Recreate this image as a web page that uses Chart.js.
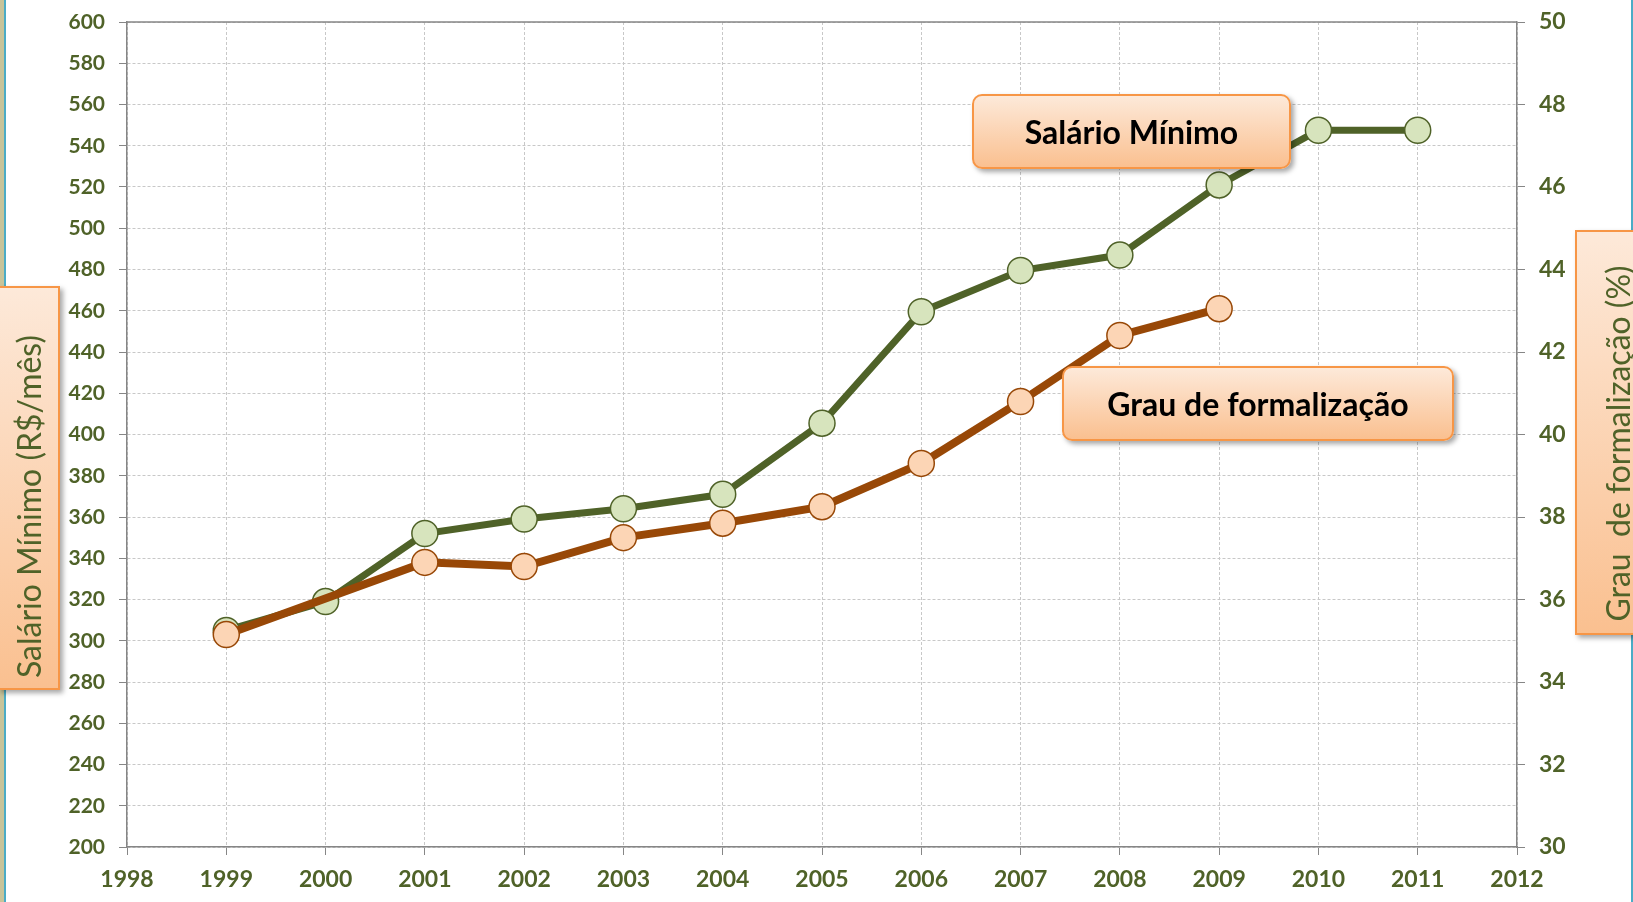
<!DOCTYPE html>
<html>
<head>
<meta charset="utf-8">
<script src="https://cdn.jsdelivr.net/npm/chart.js@4"></script>
<style>
  body { margin: 0; background: #fff; }
  #wrap { position: relative; width: 1633px; height: 902px; overflow: hidden; font-family: Lato, sans-serif; }
  #frameL { position: absolute; left: 0; top: 0; width: 4px; height: 902px; background: #c8c49a; }
  #frameL2 { position: absolute; left: 4px; top: 0; width: 2px; height: 902px; background: #4bacc6; }
  #frameR { position: absolute; left: 1631px; top: 0; width: 2px; height: 902px; background: #4bacc6; }
  .box {
    position: absolute;
    background: linear-gradient(to bottom, #fde9d9, #fac090);
    border: 2px solid #f79646;
    box-sizing: border-box;
    box-shadow: 3px 3px 5px rgba(0,0,0,0.35);
  }
  .callout { border-radius: 10px; display: flex; align-items: center; justify-content: center;
    font-weight: bold; font-size: 32px; color: #000; }
  .vtitle { display: flex; align-items: center; justify-content: center; }
  .vtitle span { white-space: pre; font-size: 32px; color: #4f6228; }
</style>
</head>
<body>
<div id="wrap">
  <div id="frameL"></div><div id="frameL2"></div><div id="frameR"></div>
  <canvas id="grafico" width="1633" height="902" style="position:absolute;left:0;top:0;"></canvas>
  <div class="box vtitle" style="left:-2px;top:286px;width:62px;height:404px;"><span style="transform: translateY(18px) rotate(-90deg);">Salário Mínimo (R$/mês)</span></div>
  <div class="box vtitle" style="left:1575px;top:230px;width:84px;height:405px;"><span style="transform: translateY(11px) rotate(-90deg);">Grau  de formalização (%)</span></div>
  <div class="box callout" style="left:972px;top:94px;width:319px;height:75px;">Salário Mínimo</div>
  <div class="box callout" style="left:1062px;top:366px;width:392px;height:75px;">Grau de formalização</div>
</div>
<script>
const anos = [1999, 2000, 2001, 2002, 2003, 2004, 2005, 2006, 2007, 2008, 2009, 2010, 2011];
const salarioMinimo = [305, 319, 352, 359, 364, 371, 405.5, 459.5, 479.5, 487, 521, 547.5, 547.5];
const grauFormalizacao = [35.15, null, 36.9, 36.8, 37.5, 37.85, 38.25, 39.3, 40.8, 42.4, 43.05, null, null];

const verde = '#4f6228';
const laranja = '#984807';
const cinza = '#868686';

Chart.defaults.font.family = 'Lato, sans-serif';
Chart.defaults.color = verde;

// linha superior da área do gráfico
const bordaTopo = {
    id: 'bordaTopo',
    afterDraw(chart) {
        const a = chart.chartArea;
        const ctx = chart.ctx;
        ctx.save();
        ctx.strokeStyle = cinza;
        ctx.lineWidth = 1.5;
        ctx.beginPath();
        ctx.moveTo(a.left, a.top);
        ctx.lineTo(a.right, a.top);
        ctx.stroke();
        ctx.restore();
    }
};

const ctx = document.getElementById('grafico').getContext('2d');
new Chart(ctx, {
    type: 'line',
    data: {
        datasets: [
            {
                label: 'Salário Mínimo',
                data: anos.map((a, i) => ({ x: a, y: salarioMinimo[i] })),
                yAxisID: 'y',
                borderColor: verde,
                borderWidth: 7,
                pointRadius: 13,
                pointBackgroundColor: '#d7e4bd',
                pointBorderColor: verde,
                pointBorderWidth: 1.5,
                tension: 0,
                order: 2
            },
            {
                label: 'Grau de formalização',
                data: anos.map((a, i) => ({ x: a, y: grauFormalizacao[i] })),
                yAxisID: 'y1',
                borderColor: laranja,
                borderWidth: 8,
                pointRadius: 13,
                pointBackgroundColor: '#fcd5b5',
                pointBorderColor: laranja,
                pointBorderWidth: 1.5,
                spanGaps: true,
                tension: 0,
                order: 1
            }
        ]
    },
    options: {
        responsive: false,
        animation: false,
        layout: { padding: { top: 22, left: 0, right: 0, bottom: 0 } },
        plugins: {
            legend: { display: false },
            tooltip: { enabled: false }
        },
        scales: {
            x: {
                type: 'linear',
                min: 1998,
                max: 2012,
                ticks: {
                    stepSize: 1,
                    padding: 11,
                    color: verde,
                    font: { size: 23, weight: 'bold' },
                    callback: v => String(v)
                },
                grid: { color: '#c8c8c8', tickColor: cinza, tickLength: 8, lineWidth: 1 },
                border: { color: cinza, width: 1.5, dash: [3, 2] },
                afterFit(scale) { scale.height = 55; scale.paddingLeft = 0; scale.paddingRight = 0; }
            },
            y: {
                position: 'left',
                min: 200,
                max: 600,
                ticks: {
                    stepSize: 20,
                    padding: 14,
                    color: verde,
                    font: { size: 21, weight: 'bold' }
                },
                grid: { color: '#c8c8c8', tickColor: cinza, tickLength: 8, lineWidth: 1 },
                border: { color: cinza, width: 1.5, dash: [3, 2] },
                afterFit(scale) { scale.width = 127; scale.paddingTop = 0; scale.paddingBottom = 0; }
            },
            y1: {
                position: 'right',
                min: 30,
                max: 50,
                ticks: {
                    stepSize: 2,
                    padding: 14,
                    color: verde,
                    font: { size: 23, weight: 'bold' }
                },
                grid: { drawOnChartArea: false, tickColor: cinza, tickLength: 8 },
                border: { color: cinza, width: 1.5 },
                afterFit(scale) { scale.width = 116; scale.paddingTop = 0; scale.paddingBottom = 0; }
            }
        }
    },
    plugins: [bordaTopo]
});
</script>
</body>
</html>
